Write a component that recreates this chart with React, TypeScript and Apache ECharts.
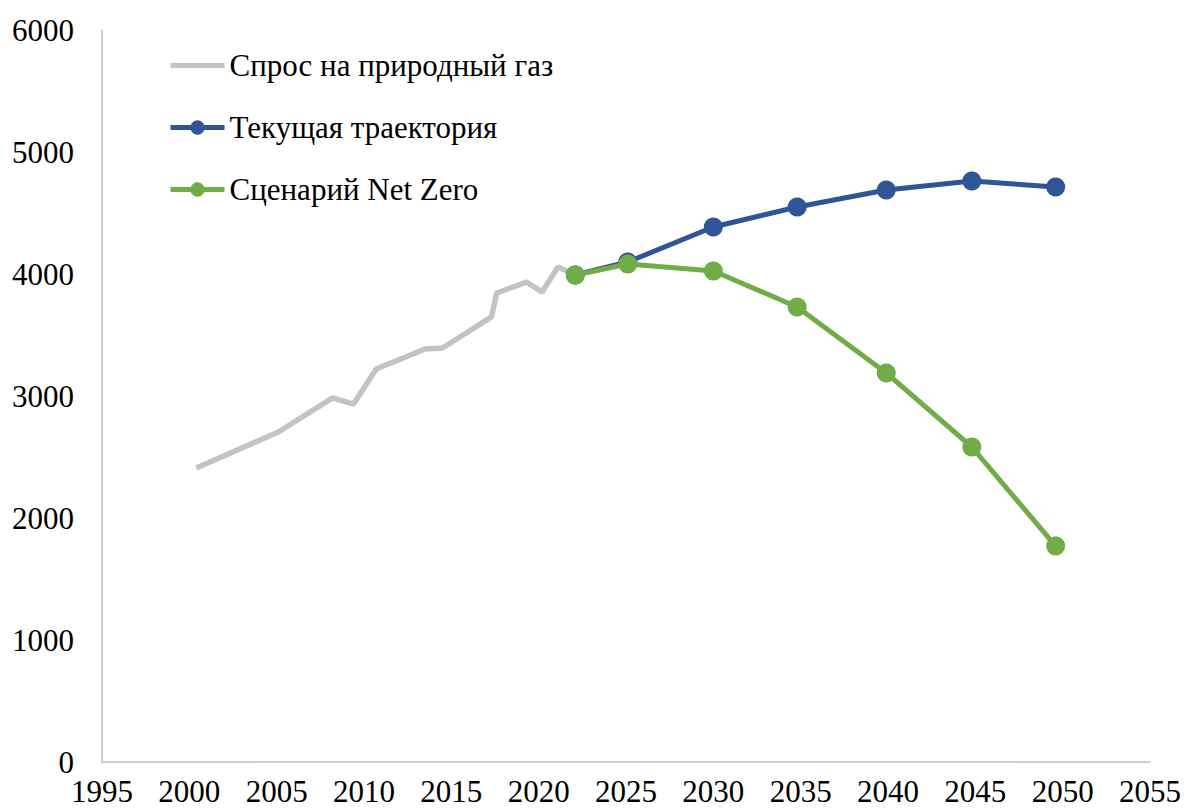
import React, { useEffect, useRef } from "react";
import * as echarts from "echarts";

const demandYears = [2000.4, 2005.1, 2008.2, 2009.4, 2010.7, 2013.5, 2014.5, 2017.3, 2017.6, 2019.3, 2020.2, 2021.1, 2022.1];
const demandValues = [2410, 2705, 2984, 2934, 3221, 3385, 3393, 3648, 3844, 3934, 3852, 4057, 3992];

const scenarioYears = [2022.1, 2025.1, 2030.0, 2034.8, 2039.9, 2044.8, 2049.6];
const currentValues = [3992, 4098, 4385, 4549, 4689, 4762, 4713];
const netZeroValues = [3992, 4082, 4025, 3730, 3189, 2582, 1770];

const seriesNames = ["Спрос на природный газ", "Текущая траектория", "Сценарий Net Zero"];

const pairs = (xs: number[], ys: number[]) => xs.map((x, i) => [x, ys[i]]);

export default function App() {
  const ref = useRef<HTMLDivElement>(null);
  useEffect(() => {
    const chart = echarts.init(ref.current!, null, { renderer: "svg" });
    const font = "Liberation Serif";
    chart.setOption({
      animation: false,
      backgroundColor: "#ffffff",
      textStyle: { fontFamily: font },
      grid: { left: 102, right: 36, top: 30, bottom: 47, containLabel: false },
      legend: {
        orient: "vertical",
        left: 163,
        top: 45,
        itemGap: 31,
        itemWidth: 54,
        itemHeight: 18,
        lineStyle: { width: 5 },
        textStyle: { fontFamily: font, fontSize: 31, color: "#000" },
        data: [
          { name: seriesNames[0], itemStyle: { opacity: 0 } },
          { name: seriesNames[1] },
          { name: seriesNames[2] },
        ],
      },
      xAxis: {
        type: "value",
        min: 1995,
        max: 2055,
        interval: 5,
        splitLine: { show: false },
        axisTick: { show: false },
        axisLine: { show: true, lineStyle: { color: "#BFBFBF", width: 1.5 } },
        axisLabel: { fontFamily: font, fontSize: 31, lineHeight: 23, color: "#000", margin: 18, formatter: (v: number) => String(v) },
      },
      yAxis: {
        type: "value",
        min: 0,
        max: 6000,
        interval: 1000,
        splitLine: { show: false },
        axisTick: { show: false },
        axisLine: { show: true, lineStyle: { color: "#BFBFBF", width: 1.5 } },
        axisLabel: { fontFamily: font, fontSize: 31, color: "#000", margin: 28, formatter: (v: number) => String(v) },
      },
      series: [
        {
          name: seriesNames[0],
          type: "line",
          data: pairs(demandYears, demandValues),
          symbol: "none",
          lineStyle: { color: "#C3C3C3", width: 5.5 },
          itemStyle: { color: "#C3C3C3" },
          z: 1,
        },
        {
          name: seriesNames[1],
          type: "line",
          data: pairs(scenarioYears, currentValues),
          symbol: "circle",
          symbolSize: 19,
          lineStyle: { color: "#2F5597", width: 5 },
          itemStyle: { color: "#2F5597" },
          z: 2,
        },
        {
          name: seriesNames[2],
          type: "line",
          data: pairs(scenarioYears, netZeroValues),
          symbol: "circle",
          symbolSize: 19,
          lineStyle: { color: "#70AD47", width: 5 },
          itemStyle: { color: "#70AD47" },
          z: 3,
        },
      ],
    });
    return () => chart.dispose();
  }, []);
  return <div ref={ref} style={{ width: 1186, height: 809, position: "absolute", left: 0, top: 0 }} />;
}
